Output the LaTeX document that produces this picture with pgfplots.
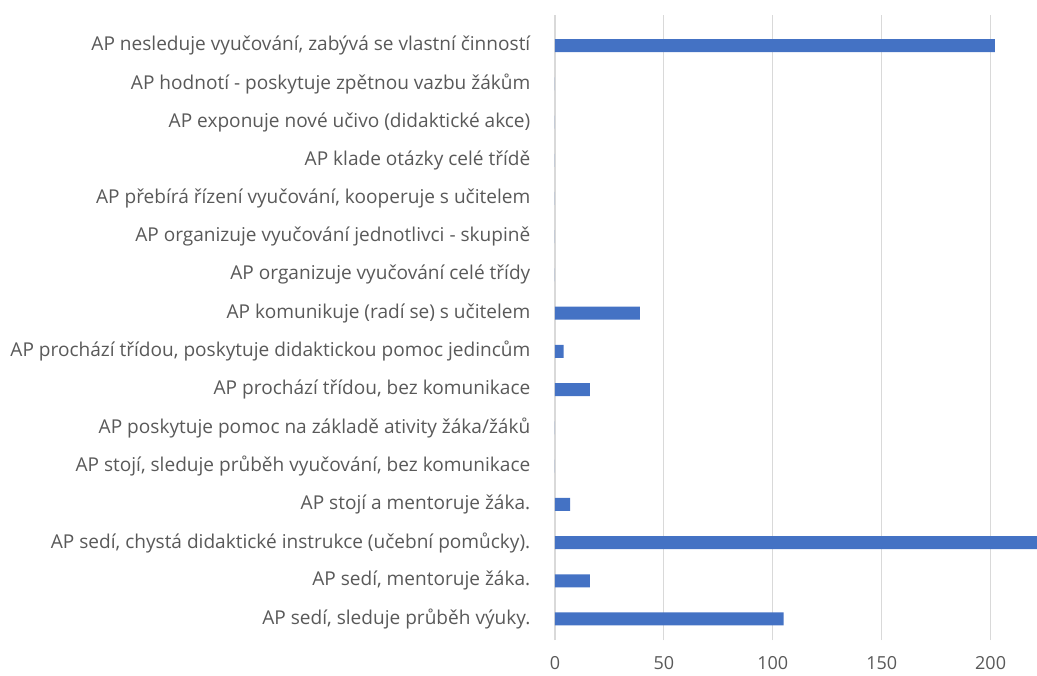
\documentclass[border=0pt]{standalone}
\usepackage{pgfplots}
\pgfplotsset{compat=1.18}
\usepackage{fontspec}
\setmainfont{Open Sans}
\definecolor{barc}{HTML}{4472C4}
\definecolor{txt}{HTML}{595959}
\definecolor{gridc}{HTML}{D9D9D9}
\begin{document}
\begin{tikzpicture}
\useasboundingbox (-416.25pt,-26.25pt) rectangle (361.5pt,480pt);
\begin{axis}[
  at={(0pt,0pt)}, anchor=south west,
  scale only axis, width=361.5pt, height=468.75pt,
  xbar, bar width=0.34,
  xmin=0, xmax=221.3, ymin=-0.55, ymax=15.8,
  xtick={0,50,100,150,200},
  ytick={0,...,15},
  yticklabels={
    {AP sedí, sleduje průběh výuky.},
    {AP sedí, mentoruje žáka.},
    {AP sedí, chystá didaktické instrukce (učební pomůcky).},
    {AP stojí a mentoruje žáka.},
    {AP stojí, sleduje průběh vyučování, bez komunikace},
    {AP poskytuje pomoc na základě ativity žáka/žáků},
    {AP prochází třídou, bez komunikace},
    {AP prochází třídou, poskytuje didaktickou pomoc jedincům},
    {AP komunikuje (radí se) s učitelem},
    {AP organizuje vyučování celé třídy},
    {AP organizuje vyučování jednotlivci - skupině},
    {AP přebírá řízení vyučování, kooperuje s učitelem},
    {AP klade otázky celé třídě},
    {AP exponuje nové učivo (didaktické akce)},
    {AP hodnotí - poskytuje zpětnou vazbu žákům},
    {AP nesleduje vyučování, zabývá se vlastní činností}},
  axis line style={draw=none},
  major tick length=0pt,
  xmajorgrids, grid style={gridc, line width=0.9pt},
  tick label style={text=txt},
  /pgf/number format/assume math mode=true,
  yticklabel style={xshift=-15pt, font=\fontsize{14.3}{16}\selectfont},
  xticklabel style={yshift=-9pt, font=\fontsize{13.5}{15}\selectfont},
  clip=true,
]
\addplot[fill=barc, draw=none] coordinates {
  (105,0) (16,1) (240,2) (7,3) (0,4) (0,5) (16,6) (4,7) (39,8)
  (0,9) (0,10) (0,11) (0,12) (0,13) (0,14) (202,15)
};
\end{axis}
\end{tikzpicture}
\end{document}
